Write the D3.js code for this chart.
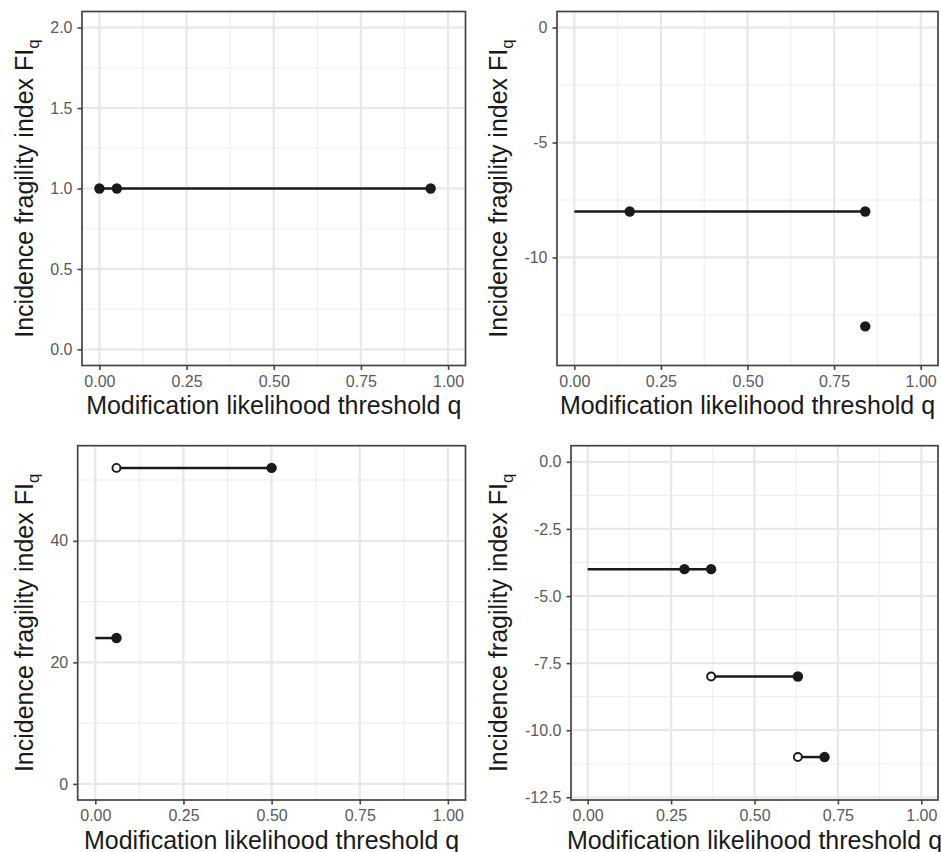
<!DOCTYPE html>
<html>
<head>
<meta charset="utf-8">
<script src="https://cdn.jsdelivr.net/npm/d3@7"></script>
<style>
  body { margin: 0; background: #fff; }
  svg { display: block; font-family: "Liberation Sans", Arial, Helvetica, sans-serif; }
  .tick text { fill: #5a5a5a; font-size: 16px; }
  .tick line { stroke: #444; }
</style>
</head>
<body>
<div id="chart"></div>
<script>
// Shared x axis
var xTicks = [0, 0.25, 0.5, 0.75, 1]
var xRange = [0, 1]

// Panel A (top left)
var segA = [[0, 0.05, 1], [0.05, 0.95, 1]]            // x0, x1, y
var ptsA = [[0, 1, 1], [0.05, 1, 1], [0.95, 1, 1]]     // x, y, filled
var yTicksA = [0, 0.5, 1, 1.5, 2]
var yRangeA = [0, 2]

// Panel B (top right)
var segB = [[0, 0.84, -8]]
var ptsB = [[0.16, -8, 1], [0.84, -8, 1], [0.84, -13, 1]]
var yTicksB = [0, -5, -10]
var yRangeB = [-14, 0]

// Panel C (bottom left)
var segC = [[0, 0.06, 24], [0.06, 0.5, 52]]
var ptsC = [[0.06, 24, 1], [0.06, 52, 0], [0.5, 52, 1]]
var yTicksC = [0, 20, 40]
var yRangeC = [0, 53]

// Panel D (bottom right)
var segD = [[0, 0.37, -4], [0.37, 0.63, -8], [0.63, 0.71, -11]]
var ptsD = [[0.29, -4, 1], [0.37, -4, 1], [0.37, -8, 0], [0.63, -8, 1], [0.63, -11, 0], [0.71, -11, 1]]
var yTicksD = [0, -2.5, -5, -7.5, -10, -12.5]
var yRangeD = [-12, 0]

var xLabel = "Modification likelihood threshold q"
var yLabel = "Incidence fragility index FI"
var ySub = "q"

var width = 941, height = 852
var ink = "#1a1a1a"

var panels = [
  { seg: segA, pts: ptsA, yTicks: yTicksA, yRange: yRangeA, digits: 1,
    left: 82, right: 465.5, top: 11.5, bottom: 365.5, yTitleX: 32.5, xTitleY: 413.5 },
  { seg: segB, pts: ptsB, yTicks: yTicksB, yRange: yRangeB, digits: 0,
    left: 557, right: 938, top: 11.5, bottom: 365.5, yTitleX: 506.5, xTitleY: 413.5 },
  { seg: segC, pts: ptsC, yTicks: yTicksC, yRange: yRangeC, digits: 0,
    left: 77.7, right: 465.5, top: 445.7, bottom: 800, yTitleX: 32.5, xTitleY: 848.5 },
  { seg: segD, pts: ptsD, yTicks: yTicksD, yRange: yRangeD, digits: 1,
    left: 571, right: 938, top: 445.7, bottom: 800, yTitleX: 506.5, xTitleY: 848.5 }
]

function expand(r) {
  var pad = (r[1] - r[0]) * 0.05
  return [r[0] - pad, r[1] + pad]
}

// minor breaks: midpoints between majors, plus one step beyond each end
function minors(ticks, dom) {
  var t = ticks.slice().sort(function(a, b) { return a - b })
  var step = t[1] - t[0]
  var out = []
  for (var v = t[0] - step / 2; v <= t[t.length - 1] + step / 2 + 1e-9; v += step) {
    if (v >= dom[0] && v <= dom[1]) out.push(v)
  }
  return out
}

function fmt(digits) {
  return function(d) { return d.toFixed(digits) }
}

var svg = d3.select("#chart")
  .append("svg")
    .attr("width", width)
    .attr("height", height)

panels.forEach(function(p) {
  var xDom = expand(xRange), yDom = expand(p.yRange)
  var x = d3.scaleLinear().domain(xDom).range([p.left, p.right])
  var y = d3.scaleLinear().domain(yDom).range([p.bottom, p.top])

  var g = svg.append("g")

  // minor grid
  g.selectAll(".xminor")
    .data(minors(xTicks, xDom))
    .enter().append("line")
      .attr("x1", function(d) { return x(d) })
      .attr("x2", function(d) { return x(d) })
      .attr("y1", p.top).attr("y2", p.bottom)
      .attr("stroke", "#eeeeee").attr("stroke-width", 1.1)
  g.selectAll(".yminor")
    .data(minors(p.yTicks, yDom))
    .enter().append("line")
      .attr("y1", function(d) { return y(d) })
      .attr("y2", function(d) { return y(d) })
      .attr("x1", p.left).attr("x2", p.right)
      .attr("stroke", "#eeeeee").attr("stroke-width", 1.1)

  // major grid
  g.selectAll(".xmajor")
    .data(xTicks)
    .enter().append("line")
      .attr("x1", function(d) { return x(d) })
      .attr("x2", function(d) { return x(d) })
      .attr("y1", p.top).attr("y2", p.bottom)
      .attr("stroke", "#e8e8e8").attr("stroke-width", 2.2)
  g.selectAll(".ymajor")
    .data(p.yTicks)
    .enter().append("line")
      .attr("y1", function(d) { return y(d) })
      .attr("y2", function(d) { return y(d) })
      .attr("x1", p.left).attr("x2", p.right)
      .attr("stroke", "#e8e8e8").attr("stroke-width", 2.2)

  // segments
  g.selectAll(".seg")
    .data(p.seg)
    .enter().append("line")
      .attr("x1", function(d) { return x(d[0]) })
      .attr("x2", function(d) { return x(d[1]) })
      .attr("y1", function(d) { return y(d[2]) })
      .attr("y2", function(d) { return y(d[2]) })
      .attr("stroke", ink).attr("stroke-width", 2.5)

  // points
  g.selectAll(".pt")
    .data(p.pts)
    .enter().append("circle")
      .attr("cx", function(d) { return x(d[0]) })
      .attr("cy", function(d) { return y(d[1]) })
      .attr("r", function(d) { return d[2] ? 5.2 : 4 })
      .attr("fill", function(d) { return d[2] ? ink : "#fff" })
      .attr("stroke", ink)
      .attr("stroke-width", function(d) { return d[2] ? 0 : 1.9 })

  // panel border
  g.append("rect")
    .attr("x", p.left).attr("y", p.top)
    .attr("width", p.right - p.left).attr("height", p.bottom - p.top)
    .attr("fill", "none").attr("stroke", "#444").attr("stroke-width", 1.7)

  // axes
  var xAxis = g.append("g")
    .attr("transform", "translate(0," + p.bottom + ")")
    .call(d3.axisBottom(x).tickValues(xTicks).tickFormat(fmt(2)).tickSize(4.5).tickPadding(5.5))
  xAxis.select(".domain").remove()
  xAxis.selectAll(".tick line").attr("stroke-width", 1.6)

  var yAxis = g.append("g")
    .attr("transform", "translate(" + p.left + ",0)")
    .call(d3.axisLeft(y).tickValues(p.yTicks).tickFormat(fmt(p.digits)).tickSize(4.5).tickPadding(5))
  yAxis.select(".domain").remove()
  yAxis.selectAll(".tick line").attr("stroke-width", 1.6)
  yAxis.attr("font-family", null).attr("font-size", null)
  xAxis.attr("font-family", null).attr("font-size", null)

  // axis titles
  g.append("text")
    .attr("x", (p.left + p.right) / 2)
    .attr("y", p.xTitleY)
    .attr("text-anchor", "middle")
    .attr("font-size", 25)
    .attr("fill", ink)
    .text(xLabel)

  var yt = g.append("text")
    .attr("transform", "translate(" + p.yTitleX + "," + (p.top + p.bottom) / 2 + ") rotate(-90)")
    .attr("text-anchor", "middle")
    .attr("font-size", 25)
    .attr("fill", ink)
  yt.append("tspan").text(yLabel)
  yt.append("tspan").attr("font-size", 17).attr("dy", 6).text(ySub)
})
</script>
</body>
</html>
